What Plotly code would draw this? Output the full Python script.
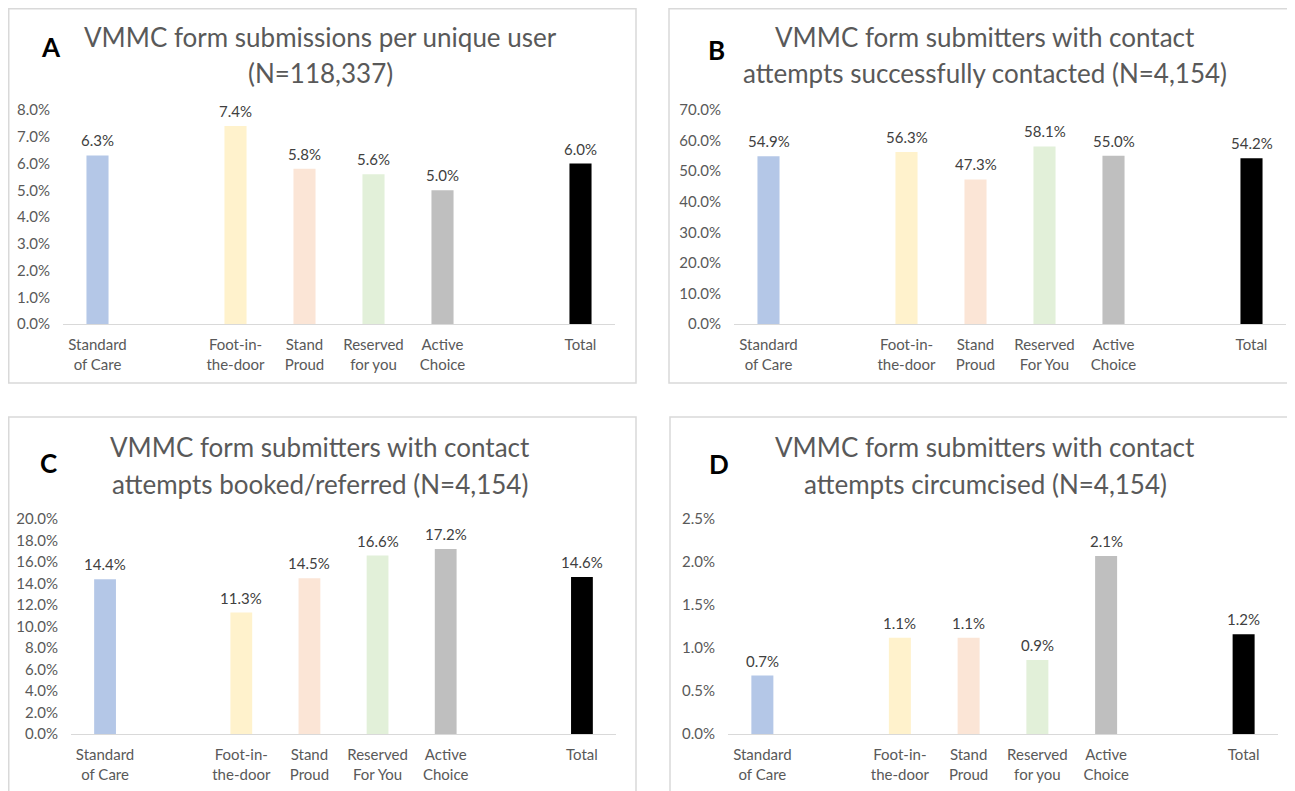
import plotly.graph_objects as go

# page body has an 8px default margin at the top/left; the figure fills the rest of the window
OFF = 8
W, H = 1295 - OFF, 791 - OFF

# ---------------- data ----------------
categories_a = ["Standard<br>of Care", "Foot-in-<br>the-door", "Stand<br>Proud",
                "Reserved<br>for you", "Active<br>Choice", "Total"]
categories_b = ["Standard<br>of Care", "Foot-in-<br>the-door", "Stand<br>Proud",
                "Reserved<br>For You", "Active<br>Choice", "Total"]
categories_c = categories_b
categories_d = categories_a

values_a = [0.063, 0.074, 0.058, 0.056, 0.050, 0.060]
values_b = [0.549, 0.563, 0.473, 0.581, 0.550, 0.542]
values_c = [0.144, 0.113, 0.145, 0.166, 0.172, 0.146]
values_d = [0.0068, 0.0112, 0.0112, 0.0086, 0.0207, 0.0116]

titles_a = ["VMMC form submissions per unique user", "(N=118,337)"]
titles_b = ["VMMC form submitters with contact", "attempts successfully contacted (N=4,154)"]
titles_c = ["VMMC form submitters with contact", "attempts booked/referred (N=4,154)"]
titles_d = ["VMMC form submitters with contact", "attempts circumcised (N=4,154)"]

y_max = [0.08, 0.70, 0.20, 0.025]
y_step = [0.01, 0.10, 0.02, 0.005]
letters = ["A", "B", "C", "D"]

bar_colors = ["#B4C7E7", "#FFF2CC", "#FBE5D6", "#E2F0D9", "#BFBFBF", "#000000"]

# ---------------- layout geometry (window pixels) ----------------
panels = [
    dict(cats=categories_a, vals=values_a, titles=titles_a,
         xdom=(63, 615), ydom=(324, 110), box=(8.75, 8.75, 636, 383),
         tcx=320, tly=(37, 73), letter=(51, 47)),
    dict(cats=categories_b, vals=values_b, titles=titles_b,
         xdom=(734, 1286), ydom=(324, 110), box=(669, 8.75, 1310, 383),
         tcx=985, tly=(37, 73), letter=(716, 50)),
    dict(cats=categories_c, vals=values_c, titles=titles_c,
         xdom=(71, 616), ydom=(734, 519), box=(8.75, 417, 636, 810),
         tcx=320, tly=(447, 484), letter=(48, 463)),
    dict(cats=categories_d, vals=values_d, titles=titles_d,
         xdom=(728, 1278), ydom=(734, 519), box=(670, 417, 1310, 810),
         tcx=985, tly=(447, 484), letter=(719, 464)),
]

def px(x):
    return (x - OFF) / W

def py(y):
    return 1 - (y - OFF) / H

FONT = "Lato"
fig = go.Figure()
layout = dict(width=W, height=H,
              margin=dict(l=0, r=0, t=0, b=0, pad=0, autoexpand=False),
              paper_bgcolor="white", plot_bgcolor="white", showlegend=False,
              font=dict(family=FONT, color="#595959"))
annotations = []
shapes = []

for i, p in enumerate(panels):
    n = i + 1
    xa = "x" if n == 1 else f"x{n}"
    ya = "y" if n == 1 else f"y{n}"
    cats = p["cats"]
    order = [cats[0], "_gap1", cats[1], cats[2], cats[3], cats[4], "_gap2", cats[5]]
    fig.add_trace(go.Bar(
        x=cats, y=p["vals"], xaxis=xa, yaxis=ya,
        marker=dict(color=bar_colors, line=dict(width=0)),
        width=0.32, hoverinfo="skip",
    ))
    # value labels above the bars
    for c, v in zip(cats, p["vals"]):
        annotations.append(dict(text=f"{v * 100:.1f}%", xref=xa, yref=ya, x=c, y=v,
                                xanchor="center", yanchor="bottom", yshift=4,
                                showarrow=False,
                                font=dict(family=FONT, size=15, color="#404040")))
    xkey = "xaxis" if n == 1 else f"xaxis{n}"
    ykey = "yaxis" if n == 1 else f"yaxis{n}"
    layout[xkey] = dict(
        domain=[px(p["xdom"][0]), px(p["xdom"][1])], anchor=ya,
        type="category", categoryorder="array", categoryarray=order,
        range=[-0.5, 7.5], tickvals=cats, ticktext=cats,
        showline=True, linecolor="#D9D9D9", linewidth=1.3,
        ticks="", showgrid=False, zeroline=False, automargin=False,
        tickfont=dict(family=FONT, size=15, color="#595959"),
        ticklabelstandoff=7, fixedrange=True,
    )
    layout[ykey] = dict(
        domain=[py(p["ydom"][0]), py(p["ydom"][1])], anchor=xa,
        range=[0, y_max[i]], dtick=y_step[i], tick0=0, tickformat=".1%",
        showline=False, showgrid=False, zeroline=False, ticks="", automargin=False,
        tickfont=dict(family=FONT, size=15, color="#595959"),
        ticklabelstandoff=12, fixedrange=True,
    )
    x0, y0, x1, y1 = p["box"]
    shapes.append(dict(type="rect", xref="paper", yref="paper",
                       x0=px(x0), x1=px(x1), y0=py(y1), y1=py(y0),
                       line=dict(color="#D9D9D9", width=1.5), layer="below"))
    for t, ly in zip(p["titles"], p["tly"]):
        annotations.append(dict(text=t, xref="paper", yref="paper",
                                x=px(p["tcx"]), y=py(ly), xanchor="center", yanchor="middle",
                                showarrow=False,
                                font=dict(family=FONT, size=26, color="#595959")))
    lx, ly = p["letter"]
    annotations.append(dict(text=f"<b>{letters[i]}</b>", xref="paper", yref="paper",
                            x=px(lx), y=py(ly), xanchor="center", yanchor="middle",
                            showarrow=False,
                            font=dict(family=FONT, size=26, color="#000000")))

layout["annotations"] = annotations
layout["shapes"] = shapes
fig.update_layout(**layout)
fig.write_html("out.html")
